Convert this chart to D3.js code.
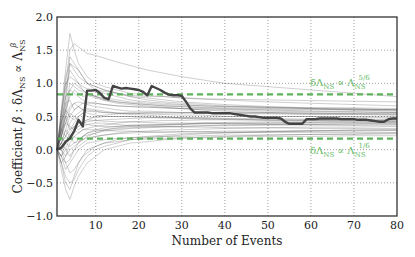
<!DOCTYPE html>
<html>
<head>
<meta charset="utf-8">
<script src="https://cdn.jsdelivr.net/npm/d3@7"></script>
<style>
  body { margin: 0; background: #fff; }
</style>
</head>
<body>
<script>
// main run: beta estimated after each event (1..80)
var mainEvents = d3.range(1, 81);
var mainValues = [
  0.00, 0.03, 0.12, 0.17, 0.28, 0.45, 0.35, 0.89, 0.89, 0.90,
  0.85, 0.78, 0.76, 0.96, 0.94, 0.92, 0.93, 0.92, 0.91, 0.90,
  0.87, 0.82, 0.96, 0.93, 0.90, 0.86, 0.83, 0.82, 0.82, 0.81,
  0.72, 0.62, 0.56, 0.56, 0.56, 0.56, 0.55, 0.55, 0.55, 0.55,
  0.55, 0.54, 0.53, 0.52, 0.51, 0.50, 0.50, 0.49, 0.48, 0.48,
  0.48, 0.48, 0.47, 0.42, 0.39, 0.39, 0.39, 0.39, 0.46, 0.46,
  0.46, 0.47, 0.47, 0.47, 0.47, 0.47, 0.46, 0.46, 0.46, 0.46,
  0.45, 0.45, 0.45, 0.44, 0.43, 0.42, 0.42, 0.46, 0.47, 0.47
];

// background runs, sampled at these events
var bgEvents = [1, 2, 3, 4, 5, 6, 7, 8, 10, 12, 15, 18, 22, 26, 30, 35, 40, 50, 60, 70, 80];
var bgRuns = [
  [0, 0.5, 1.0, 1.5, 1.6, 1.55, 1.5, 1.45, 1.42, 1.38, 1.32, 1.27, 1.2, 1.15, 1.1, 1.05, 1.0, 0.95, 0.9, 0.85, 0.8],
  [0, 0.6, 1.2, 1.75, 1.5, 1.3, 1.2, 1.1, 1.0, 0.95, 0.9, 0.85, 0.82, 0.8, 0.78, 0.76, 0.75, 0.72, 0.7, 0.68, 0.66],
  [0, -0.3, -0.6, -0.75, -0.55, -0.4, -0.3, -0.2, -0.1, 0.0, 0.05, 0.1, 0.12, 0.15, 0.17, 0.19, 0.2, 0.22, 0.23, 0.24, 0.25],
  [0, -0.2, -0.4, -0.5, -0.45, -0.3, -0.2, -0.1, 0.0, 0.05, 0.1, 0.15, 0.18, 0.2, 0.22, 0.24, 0.25, 0.27, 0.28, 0.3, 0.3],
  [0, 0.3, 0.7, 1.3, 1.2, 1.1, 1.05, 1.0, 0.95, 0.9, 0.85, 0.8, 0.78, 0.75, 0.72, 0.7, 0.68, 0.65, 0.63, 0.62, 0.6],
  [0, 0.2, 0.4, 0.6, 0.7, 0.65, 0.6, 0.62, 0.6, 0.58, 0.55, 0.55, 0.54, 0.53, 0.52, 0.52, 0.5, 0.5, 0.5, 0.49, 0.48],
  [0, 0.1, 0.2, 0.3, 0.35, 0.4, 0.42, 0.45, 0.44, 0.43, 0.42, 0.42, 0.41, 0.4, 0.4, 0.4, 0.39, 0.38, 0.38, 0.37, 0.37],
  [0, -0.1, -0.2, -0.15, 0.0, 0.05, 0.1, 0.15, 0.2, 0.22, 0.25, 0.27, 0.28, 0.3, 0.3, 0.31, 0.32, 0.33, 0.34, 0.34, 0.35],
  [0, 0.4, 0.8, 0.9, 1.0, 0.95, 0.9, 0.85, 0.8, 0.75, 0.72, 0.7, 0.68, 0.66, 0.65, 0.63, 0.62, 0.6, 0.58, 0.57, 0.56],
  [0, 0.2, 0.5, 0.3, 0.4, 0.5, 0.55, 0.6, 0.58, 0.56, 0.55, 0.53, 0.52, 0.5, 0.48, 0.47, 0.46, 0.45, 0.44, 0.44, 0.43],
  [0, -0.1, 0.1, 0.2, 0.1, 0.15, 0.2, 0.22, 0.25, 0.28, 0.3, 0.32, 0.33, 0.34, 0.35, 0.36, 0.37, 0.38, 0.38, 0.39, 0.4],
  [0, 0.3, 0.6, 0.8, 0.9, 0.85, 0.8, 0.82, 0.78, 0.74, 0.7, 0.68, 0.66, 0.64, 0.62, 0.6, 0.58, 0.56, 0.55, 0.54, 0.53],
  [0, 0.0, -0.2, -0.35, -0.3, -0.2, -0.1, 0.0, 0.05, 0.1, 0.12, 0.15, 0.16, 0.17, 0.18, 0.18, 0.19, 0.2, 0.2, 0.21, 0.21],
  [0, 0.5, 1.1, 1.3, 1.25, 1.2, 1.1, 1.0, 0.9, 0.85, 0.8, 0.75, 0.72, 0.7, 0.68, 0.66, 0.65, 0.63, 0.62, 0.61, 0.6],
  [0, 0.1, 0.3, 0.5, 0.45, 0.5, 0.55, 0.5, 0.48, 0.5, 0.5, 0.5, 0.49, 0.48, 0.47, 0.46, 0.46, 0.45, 0.45, 0.45, 0.45],
  [0, 0.2, 0.1, 0.25, 0.35, 0.3, 0.35, 0.38, 0.4, 0.4, 0.38, 0.36, 0.35, 0.35, 0.34, 0.34, 0.33, 0.33, 0.32, 0.32, 0.32],
  [0, 0.6, 1.0, 1.1, 1.05, 1.0, 0.95, 0.92, 0.9, 0.88, 0.85, 0.82, 0.8, 0.8, 0.78, 0.77, 0.76, 0.75, 0.74, 0.73, 0.72],
  [0, -0.2, -0.1, 0.0, 0.05, 0.1, 0.15, 0.2, 0.25, 0.3, 0.33, 0.35, 0.36, 0.37, 0.38, 0.4, 0.41, 0.42, 0.42, 0.43, 0.43],
  [0, 0.3, 0.5, 0.65, 0.7, 0.72, 0.7, 0.68, 0.65, 0.63, 0.6, 0.58, 0.58, 0.57, 0.56, 0.56, 0.55, 0.55, 0.54, 0.54, 0.54],
  [0, 0.0, 0.1, 0.05, 0.1, 0.12, 0.15, 0.18, 0.2, 0.22, 0.24, 0.25, 0.26, 0.26, 0.27, 0.27, 0.28, 0.28, 0.29, 0.29, 0.3],
  [0, 0.4, 0.7, 0.75, 0.6, 0.65, 0.7, 0.72, 0.7, 0.68, 0.66, 0.65, 0.64, 0.63, 0.62, 0.62, 0.61, 0.6, 0.6, 0.6, 0.6],
  [0, -0.2, -0.5, -0.6, -0.4, -0.2, -0.1, -0.05, 0.05, 0.1, 0.15, 0.18, 0.2, 0.22, 0.24, 0.25, 0.26, 0.27, 0.28, 0.28, 0.29],
  [0, 0.2, 0.4, 0.55, 0.5, 0.45, 0.4, 0.42, 0.44, 0.45, 0.46, 0.47, 0.48, 0.48, 0.49, 0.49, 0.5, 0.5, 0.5, 0.5, 0.5],
  [0, 0.1, 0.0, -0.1, 0.0, 0.1, 0.2, 0.25, 0.3, 0.33, 0.35, 0.37, 0.38, 0.38, 0.39, 0.4, 0.4, 0.4, 0.41, 0.41, 0.41],
  [0, 0.5, 0.9, 1.2, 1.1, 1.0, 0.9, 0.85, 0.8, 0.78, 0.75, 0.72, 0.7, 0.68, 0.67, 0.66, 0.65, 0.64, 0.63, 0.63, 0.62],
  [0, 0.3, 0.2, 0.4, 0.5, 0.55, 0.6, 0.58, 0.57, 0.56, 0.55, 0.55, 0.56, 0.56, 0.55, 0.55, 0.54, 0.54, 0.53, 0.53, 0.52],
  [0, 0.0, -0.1, 0.1, 0.2, 0.15, 0.2, 0.25, 0.28, 0.3, 0.32, 0.33, 0.34, 0.35, 0.35, 0.36, 0.36, 0.37, 0.37, 0.37, 0.38],
  [0, 0.4, 0.6, 0.5, 0.6, 0.65, 0.6, 0.55, 0.52, 0.5, 0.5, 0.5, 0.49, 0.49, 0.48, 0.48, 0.47, 0.47, 0.46, 0.46, 0.46],
  [0, 0.1, 0.2, 0.15, 0.2, 0.25, 0.3, 0.32, 0.35, 0.37, 0.4, 0.42, 0.43, 0.44, 0.44, 0.45, 0.45, 0.44, 0.44, 0.43, 0.43],
  [0, 0.2, 0.5, 0.9, 0.85, 0.8, 0.75, 0.7, 0.7, 0.68, 0.66, 0.65, 0.64, 0.63, 0.62, 0.6, 0.6, 0.58, 0.57, 0.57, 0.56],
  [0, -0.1, -0.3, -0.2, -0.1, 0.0, 0.05, 0.1, 0.12, 0.15, 0.17, 0.18, 0.19, 0.2, 0.2, 0.21, 0.22, 0.22, 0.23, 0.23, 0.24],
  [0, 0.3, 0.4, 0.35, 0.3, 0.35, 0.4, 0.38, 0.36, 0.35, 0.35, 0.36, 0.37, 0.38, 0.38, 0.39, 0.39, 0.4, 0.4, 0.4, 0.4],
  [0, 0.2, 0.6, 1.0, 0.95, 0.9, 0.88, 0.85, 0.8, 0.76, 0.72, 0.7, 0.68, 0.66, 0.65, 0.64, 0.63, 0.62, 0.61, 0.6, 0.6],
  [0, 0.1, 0.3, 0.2, 0.3, 0.35, 0.4, 0.45, 0.5, 0.52, 0.54, 0.55, 0.55, 0.55, 0.56, 0.56, 0.56, 0.56, 0.55, 0.55, 0.55],
  [0, -0.1, 0.0, 0.2, 0.3, 0.25, 0.3, 0.3, 0.3, 0.29, 0.28, 0.28, 0.27, 0.27, 0.27, 0.27, 0.26, 0.26, 0.26, 0.26, 0.26],
  [0, 0.4, 0.8, 1.4, 1.3, 1.2, 1.1, 1.0, 0.95, 0.9, 0.85, 0.8, 0.75, 0.72, 0.7, 0.68, 0.66, 0.64, 0.62, 0.6, 0.58]
];

// reference exponents drawn as dashed lines
var refLines = [
  { value: 5 / 6, sup: '5/6' },
  { value: 1 / 6, sup: '1/6' }
];

var xTicks = [10, 20, 30, 40, 50, 60, 70, 80];
var yTicks = [-1.0, -0.5, 0.0, 0.5, 1.0, 1.5, 2.0];

var width = 415;
var height = 257;
var margin = { top: 17, right: 18, bottom: 41, left: 57 };
var serif = '"DejaVu Serif", "Liberation Serif", serif';

var svg = d3.select('body')
  .append('svg')
    .attr('width', width)
    .attr('height', height)
    .attr('font-family', serif);

var x = d3.scaleLinear()
    .domain([1, 80])
    .range([margin.left, width - margin.right]);

var y = d3.scaleLinear()
    .domain([-1, 2])
    .range([height - margin.bottom, margin.top]);

// grid
svg.append('g')
  .selectAll('line')
  .data(xTicks.slice(0, -1))
  .enter()
  .append('line')
    .attr('x1', function(d) { return x(d); })
    .attr('x2', function(d) { return x(d); })
    .attr('y1', y(-1))
    .attr('y2', y(2))
    .attr('stroke', '#888')
    .attr('stroke-width', 0.8)
    .attr('stroke-dasharray', '1,2');

svg.append('g')
  .selectAll('line')
  .data(yTicks.slice(1, -1))
  .enter()
  .append('line')
    .attr('x1', x(1))
    .attr('x2', x(80))
    .attr('y1', function(d) { return y(d); })
    .attr('y2', function(d) { return y(d); })
    .attr('stroke', '#888')
    .attr('stroke-width', 0.8)
    .attr('stroke-dasharray', '1,2');

var plot = svg.append('g');

var bgLine = d3.line()
    .x(function(d, i) { return x(bgEvents[i]); })
    .y(function(d) { return y(d); });

plot.selectAll('.bg')
  .data(bgRuns)
  .enter()
  .append('path')
    .attr('class', 'bg')
    .attr('d', bgLine)
    .attr('fill', 'none')
    .attr('stroke', '#444')
    .attr('stroke-opacity', 0.26)
    .attr('stroke-width', 1);

// green reference lines
plot.selectAll('.ref')
  .data(refLines)
  .enter()
  .append('line')
    .attr('class', 'ref')
    .attr('x1', x(1))
    .attr('x2', x(80))
    .attr('y1', function(d) { return y(d.value); })
    .attr('y2', function(d) { return y(d.value); })
    .attr('stroke', '#5cb35c')
    .attr('stroke-width', 2.2)
    .attr('stroke-dasharray', '6,4');

var mainLine = d3.line()
    .x(function(d, i) { return x(mainEvents[i]); })
    .y(function(d) { return y(d); });

plot.append('path')
  .datum(mainValues)
  .attr('d', mainLine)
  .attr('fill', 'none')
  .attr('stroke', '#444')
  .attr('stroke-width', 2.4)
  .attr('stroke-linejoin', 'round');

// green labels
var labels = svg.selectAll('.reflabel')
  .data(refLines)
  .enter()
  .append('text')
    .attr('class', 'reflabel')
    .attr('x', 310)
    .attr('y', function(d, i) { return i == 0 ? y(d.value) - 8 : y(d.value) + 15; })
    .attr('fill', '#66bb66')
    .attr('font-size', 10);

labels.append('tspan').text('δΛ');
labels.append('tspan').attr('dy', 3).attr('font-size', 7).text('NS');
labels.append('tspan').attr('dy', -3).text(' ∝ Λ');
labels.append('tspan').attr('dy', 3).attr('font-size', 7).text('NS');
labels.append('tspan').attr('dx', -7).attr('dy', -9).attr('font-size', 7).text(function(d) { return d.sup; });

// frame
svg.append('rect')
  .attr('x', x(1))
  .attr('y', y(2))
  .attr('width', x(80) - x(1))
  .attr('height', y(-1) - y(2))
  .attr('fill', 'none')
  .attr('stroke', '#333')
  .attr('stroke-width', 1.3);

// tick labels
svg.append('g')
  .selectAll('text')
  .data(xTicks)
  .enter()
  .append('text')
    .attr('x', function(d) { return x(d); })
    .attr('y', y(-1) + 13)
    .attr('text-anchor', 'middle')
    .attr('font-size', 11)
    .attr('fill', '#222')
    .text(function(d) { return d; });

svg.append('g')
  .selectAll('text')
  .data(yTicks)
  .enter()
  .append('text')
    .attr('x', x(1) - 4)
    .attr('y', function(d) { return y(d) + 4; })
    .attr('text-anchor', 'end')
    .attr('font-size', 11)
    .attr('fill', '#222')
    .text(function(d) { return d < 0 ? '\u2212' + d3.format('.1f')(-d) : d3.format('.1f')(d); });

// axis titles
svg.append('text')
  .attr('x', (x(1) + x(80)) / 2)
  .attr('y', 245)
  .attr('text-anchor', 'middle')
  .attr('font-size', 12)
  .attr('fill', '#222')
  .text('Number of Events');

var ylab = svg.append('text')
  .attr('transform', 'translate(22,' + ((y(-1) + y(2)) / 2) + ') rotate(-90)')
  .attr('text-anchor', 'middle')
  .attr('font-size', 12)
  .attr('fill', '#222');

ylab.append('tspan').text('Coefficient ');
ylab.append('tspan').attr('font-style', 'italic').text('β');
ylab.append('tspan').text(' : δΛ');
ylab.append('tspan').attr('dy', 3).attr('font-size', 8).text('NS');
ylab.append('tspan').attr('dy', -3).text(' ∝ Λ');
ylab.append('tspan').attr('dy', 3).attr('font-size', 8).text('NS');
ylab.append('tspan').attr('dx', -8).attr('dy', -9).attr('font-size', 8).attr('font-style', 'italic').text('β');
</script>
</body>
</html>
